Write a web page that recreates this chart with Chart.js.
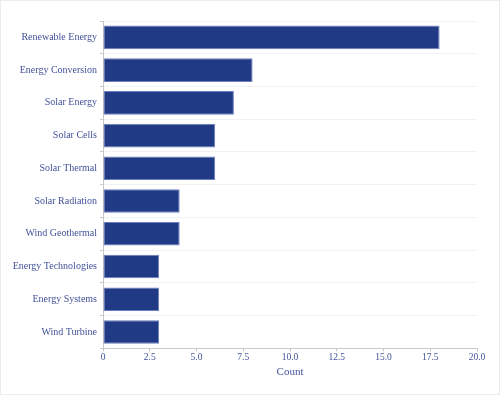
<!DOCTYPE html>
<html>
<head>
<meta charset="utf-8">
<script src="https://cdn.jsdelivr.net/npm/chart.js@4"></script>
<style>
  html, body { margin: 0; padding: 0; background: #fff; }
  .frame { width: 498px; height: 393px; border: 1px solid #ececec; }
</style>
</head>
<body>
<div class="frame"><canvas id="myChart"></canvas></div>
<script>
const categories = [
  "Renewable Energy",
  "Energy Conversion",
  "Solar Energy",
  "Solar Cells",
  "Solar Thermal",
  "Solar Radiation",
  "Wind Geothermal",
  "Energy Technologies",
  "Energy Systems",
  "Wind Turbine"
];
const counts = [18, 8, 7, 6, 6, 4.1, 4.1, 3, 3, 3];
const xTicks = [0, 2.5, 5, 7.5, 10, 12.5, 15, 17.5, 20];

const textColor = "#42529a";
const fontFamily = "'Liberation Serif', serif";

const ctx = document.getElementById("myChart").getContext("2d");

const data = {
  labels: categories,
  datasets: [
    {
      data: counts,
      backgroundColor: "#203a86",
      borderColor: "#6d7fc0",
      borderWidth: 1,
      borderSkipped: false
    }
  ]
};

const options = {
  indexAxis: "y",
  responsive: false,
  animation: false,
  layout: { padding: { top: 20, right: 22, bottom: 15, left: 0 } },
  plugins: {
    legend: { display: false },
    tooltip: { enabled: false }
  },
  scales: {
    x: {
      min: 0,
      max: 20,
      afterBuildTicks: (axis) => {
        axis.ticks = xTicks.map((v) => ({ value: v }));
      },
      grid: {
        drawOnChartArea: false,
        color: "#c8c8c8",
        tickLength: 3
      },
      border: { color: "#c8c8c8" },
      ticks: {
        color: textColor,
        font: { family: fontFamily, size: 9.5 },
        padding: 0,
        maxRotation: 0,
        callback: (v) => (v === 0 ? "0" : Number(v).toFixed(1))
      },
      title: {
        display: true,
        text: "Count",
        color: textColor,
        font: { family: fontFamily, size: 11 },
        padding: { top: 3, bottom: 0 }
      }
    },
    y: {
      offset: true,
      afterFit: (axis) => {
        axis.width = 102;
      },
      grid: {
        offset: true,
        color: "#f2f2f2",
        tickColor: "#c8c8c8",
        tickLength: 3
      },
      border: { color: "#c8c8c8" },
      ticks: {
        color: textColor,
        font: { family: fontFamily, size: 10 },
        padding: 3
      }
    }
  }
};

const canvas = document.getElementById("myChart");
canvas.width = 498;
canvas.height = 393;

const myChart = new Chart(ctx, { type: "bar", data, options });
</script>
</body>
</html>
